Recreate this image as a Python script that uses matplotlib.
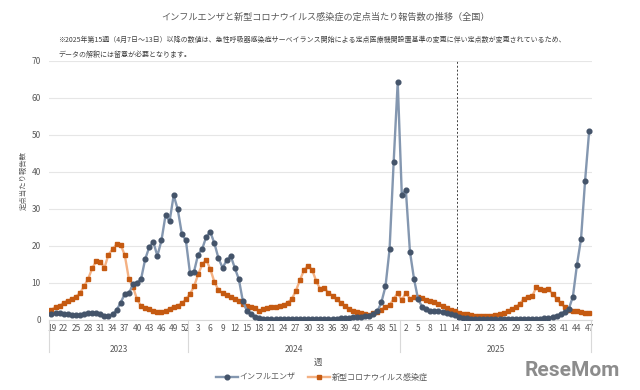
import matplotlib
matplotlib.use("Agg")
import matplotlib.pyplot as plt
import matplotlib.transforms as mtransforms
import numpy as np

plt.rcParams['font.family'] = ['Noto Sans CJK JP', 'DejaVu Sans']

title = "インフルエンザと新型コロナウイルス感染症の定点当たり報告数の推移（全国）"
note1 = "※2025年第15週（4月7日～13日）以降の数値は、急性呼吸器感染症サーベイランス開始による定点医療機関設置基準の変更に伴い定点数が変更されているため、"
note2 = "データの解釈には留意が必要となります。"
ylabel = "定点当たり報告数"
xlabel = "週"
series_names = ["インフルエンザ", "新型コロナウイルス感染症"]

years = [2023, 2024, 2025]
weeks_2023 = list(range(19, 53))
weeks_2024 = list(range(1, 53))
weeks_2025 = list(range(1, 48))

flu_2023 = [1.5, 1.9, 1.8, 1.6, 1.5, 1.4, 1.3, 1.3,
            1.7, 1.9, 1.8, 1.8, 1.6, 1.2, 1.1, 1.5,
            2.7, 4.7, 7.1, 7.2, 9.6, 10.1, 11.1, 16.4,
            19.7, 21.1, 17.3, 21.5, 28.3, 26.7, 33.7, 29.9,
            23.3, 21.5]
flu_2024 = [12.7, 13.1, 17.7, 19.2, 22.5, 23.8, 20.7, 16.7, 14.1, 16.1,
            17.3, 14.1, 11.0, 5.0, 2.5, 1.6, 0.9, 0.5, 0.35, 0.3,
            0.3, 0.25, 0.25, 0.2, 0.2, 0.2, 0.2, 0.2, 0.2, 0.2,
            0.25, 0.25, 0.25, 0.3, 0.3, 0.35, 0.4, 0.5, 0.55, 0.6,
            0.7, 0.8, 0.9, 1.0, 1.2, 1.5, 2.3, 4.8, 9.1, 19.1,
            42.6, 64.3]
flu_2025 = [33.9, 35.1, 18.5, 11.1, 5.6, 3.6, 2.9, 2.5, 2.3, 2.4,
            2.2, 1.9, 1.6, 1.3, 0.9, 0.6, 0.5, 0.4, 0.4, 0.35,
            0.3, 0.3, 0.3, 0.3, 0.3, 0.3, 0.3, 0.3, 0.3, 0.3,
            0.3, 0.3, 0.3, 0.3, 0.35, 0.45, 0.6, 0.9, 1.2, 1.5,
            2.2, 3.0, 6.3, 14.9, 21.9, 37.7, 51.1]

covid_2023 = [2.7, 3.6, 3.8, 4.7, 5.2, 5.7, 6.3, 7.3,
              9.1, 11.1, 14.0, 15.9, 15.8, 14.1, 17.7, 19.1,
              20.5, 20.3, 17.5, 11.1, 9.0, 5.6, 3.8, 3.3,
              2.9, 2.4, 2.1, 2.1, 2.5, 3.0, 3.6, 3.9,
              4.5, 5.6]
covid_2024 = [7.0, 9.1, 12.3, 15.0, 16.3, 13.7, 10.3, 8.1, 7.2, 6.7,
              6.3, 5.7, 5.0, 4.3, 3.9, 3.6, 3.2, 2.3, 2.9, 3.2,
              3.4, 3.6, 3.9, 4.1, 4.7, 5.7, 7.9, 10.8, 13.5, 14.7,
              13.5, 10.5, 8.3, 8.6, 7.4, 6.5, 5.6, 4.7, 3.8, 3.1,
              2.5, 2.1, 1.8, 1.6, 1.4, 1.8, 2.2, 2.8, 3.6, 4.0,
              5.7, 7.3]
covid_2025 = [5.4, 7.3, 5.8, 6.1, 6.3, 5.9, 5.4, 5.2, 4.9, 4.4,
              3.8, 3.2, 2.7, 2.4, 2.0, 1.7, 1.5, 1.3, 1.2, 1.15,
              1.1, 1.1, 1.2, 1.3, 1.5, 1.9, 2.4, 2.9, 3.5, 4.4,
              5.8, 6.2, 6.4, 8.8, 8.4, 8.2, 8.5, 7.0, 5.8, 4.5,
              3.5, 2.7, 2.5, 2.3, 2.1, 2.0, 1.8]

weeks_by_year = [weeks_2023, weeks_2024, weeks_2025]
weeks = weeks_2023 + weeks_2024 + weeks_2025
flu = flu_2023 + flu_2024 + flu_2025
covid = covid_2023 + covid_2024 + covid_2025
x = np.arange(len(weeks))

fig = plt.figure(figsize=(6.4, 3.9), dpi=100)
ax = fig.add_axes([0.0766, 0.1795, 0.8478, 0.6641])

grey_txt = "#595959"
ax.plot(x, flu, color="#8497B0", lw=1.7, marker="o", ms=3.4,
        mfc="#44546A", mec="#44546A", label=series_names[0], zorder=3)
ax.plot(x, covid, color="#F4B183", lw=1.7, marker="s", ms=3.5,
        mfc="#C55A11", mec="#C55A11", label=series_names[1], zorder=2)

ax.set_xlim(-0.6, len(weeks) - 0.4)
ax.set_ylim(0, 70)
ax.set_yticks(range(0, 71, 10))
ax.yaxis.grid(True, color="#E6E6E6", lw=0.8)
ax.set_axisbelow(True)
for s in ["top", "right", "left"]:
    ax.spines[s].set_visible(False)
ax.spines["bottom"].set_color("#D9D9D9")
ax.tick_params(axis="y", length=0, labelsize=6, colors=grey_txt, pad=6)
ticks = x[::3]
ax.set_xticks(ticks)
ax.set_xticklabels([str(weeks[i]) for i in ticks])
ax.tick_params(axis="x", length=0, labelsize=6, colors=grey_txt, pad=3)

# 2025 week 15 boundary
split = len(weeks_2023) + len(weeks_2024) + weeks_2025.index(15) - 0.5
ax.axvline(split, color="#404040", lw=0.7, ls=(0, (2, 2)), zorder=1)

# year group separators and labels
trans = mtransforms.blended_transform_factory(ax.transData, ax.transAxes)
start = 0
bounds = [-0.5]
for yr, wk in zip(years, weeks_by_year):
    end = start + len(wk) - 1
    ax.text((start + end) / 2, -0.115, str(yr), transform=trans, ha="center",
            va="center", fontsize=6, color=grey_txt)
    bounds.append(end + 0.5)
    start = end + 1
for b in bounds:
    ax.plot([b, b], [0, -0.125], transform=trans, color="#D9D9D9", lw=0.8,
            clip_on=False)

ax.set_ylabel(ylabel, fontsize=5.3, color=grey_txt, labelpad=4)
ax.yaxis.set_label_coords(-0.04, 0.54)
fig.text(0.497, 0.072, xlabel, ha="center", va="center", fontsize=6, color=grey_txt)

fig.text(0.508, 0.955, title, ha="center", va="center", fontsize=6.6, color=grey_txt)
fig.text(0.091, 0.898, note1, ha="left", va="center", fontsize=5.0, color="#404040")
fig.text(0.091, 0.858, note2, ha="left", va="center", fontsize=5.0, color="#404040")

leg = fig.legend(loc="center", bbox_to_anchor=(0.503, 0.033), ncol=2, frameon=False,
                 fontsize=5.8, handlelength=2.7, columnspacing=1.6, handletextpad=0.2)
for t in leg.get_texts():
    t.set_color(grey_txt)

fig.text(0.895, 0.05, "ReseMom", ha="center", va="center", fontsize=15,
         fontweight="bold", color="#8C8C8C", family=["Roboto", "DejaVu Sans"])

fig.savefig("out.png", dpi=100)
